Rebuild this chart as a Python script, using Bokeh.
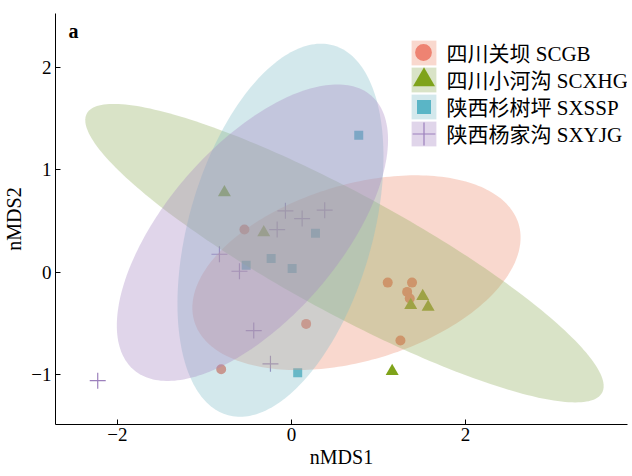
import numpy as np
from bokeh.plotting import figure
from bokeh.models import Range1d, FixedTicker, Label, Legend, LegendItem
from bokeh.embed import file_html
from bokeh.resources import INLINE

# ---- data ----
groups = ["四川关坝 SCGB", "四川小河沟 SCXHG", "陕西杉树坪 SXSSP", "陕西杨家沟 SXYJG"]

scgb_x = [-0.540, 0.169, -0.807, 1.106, 1.385, 1.329, 1.359, 1.252]
scgb_y = [0.417, -0.506, -0.950, -0.102, -0.102, -0.193, -0.258, -0.669]

scxhg_x = [-0.770, -0.318, 1.157, 1.508, 1.370, 1.570]
scxhg_y = [0.779, 0.387, -0.970, -0.236, -0.324, -0.340]

sxssp_x = [0.773, 0.276, -0.520, -0.233, 0.008, 0.072]
sxssp_y = [1.340, 0.381, 0.068, 0.133, 0.035, -0.985]

sxyjg_x = [-2.225, -0.827, -0.597, -0.433, -0.241, -0.164, -0.069, 0.123, 0.382]
sxyjg_y = [-1.061, 0.175, 0.009, -0.571, -0.897, 0.417, 0.600, 0.524, 0.606]

# ellipse centre and covariance-like shape (data units) per group
ell_cx = [0.747, 0.609, -0.126, -0.448]
ell_cy = [-0.005, 0.186, 0.410, 0.386]
ell_sxx = [3.553, 8.863, 1.40, 2.426]
ell_syy = [0.907, 2.131, 3.33, 2.103]
ell_sxy = [0.647, -3.872, 0.85, 1.414]

x_ticks = [-2, 0, 2]
y_ticks = [-1, 0, 1, 2]

# ---- style ----
point_colors = ["#EE8372", "#7FA31A", "#5AB5C6", "#9C80BC"]
fill_colors = ["#EE9073", "#92AF5F", "#81BDC9", "#A687C3"]
SERIF = "Liberation Serif, Noto Sans CJK SC"

FB = 424          # frame bottom (px from top)
FL = 55           # frame left
row_centers = [52, 79, 106, 133]   # legend row centres, px from top
key_cx = 423                         # legend key centre, px from left
key_box = 31                         # legend key area (fill = 80 %)
key_marker_box = [42, 55, 35, 57]    # legend marker area (marker = 40 %)

p = figure(width=632, height=476,
           x_range=Range1d(-2.71, 3.86), y_range=Range1d(-1.49, 2.53),
           output_backend="svg", toolbar_location=None,
           min_border_left=FL, min_border_right=5, min_border_top=13, min_border_bottom=52)
p.outline_line_color = None
p.xgrid.visible = False
p.ygrid.visible = False

xs_all = [scgb_x, scxhg_x, sxssp_x, sxyjg_x]
ys_all = [scgb_y, scxhg_y, sxssp_y, sxyjg_y]
markers = ["circle", "triangle", "square", "cross"]
sizes = [10, 13, 9, 16]

scatter_r = []
for i in range(4):
    if markers[i] == "cross":
        r = p.scatter(xs_all[i], ys_all[i], marker="cross", size=sizes[i],
                      line_color=point_colors[i], line_width=1.2)
    else:
        r = p.scatter(xs_all[i], ys_all[i], marker=markers[i], size=sizes[i],
                      fill_color=point_colors[i], line_color=None)
    scatter_r.append(r)

t = np.linspace(0, 2 * np.pi, 240)
patch_r = []
for i in range(4):
    S = np.array([[ell_sxx[i], ell_sxy[i]], [ell_sxy[i], ell_syy[i]]])
    L = np.linalg.cholesky(S)
    pts = L @ np.vstack([np.cos(t), np.sin(t)])
    ex = ell_cx[i] + pts[0]
    ey = ell_cy[i] + pts[1]
    r = p.patch(ex, ey, fill_color=fill_colors[i], fill_alpha=0.35, line_color=None)
    patch_r.append(r)

# legend rows: one small legend per row (key background + label), then marker on top
for i in range(4):
    g = key_box
    la = Legend(items=[LegendItem(label=groups[i], renderers=[patch_r[i]])],
                location=(key_cx - g / 2 - FL, FB - (row_centers[i] + g / 2)),
                padding=0, margin=0, spacing=0, glyph_width=g, glyph_height=g,
                label_standoff=8, label_text_font=SERIF, label_text_font_size="21px",
                label_text_color="black",
                border_line_color=None, background_fill_alpha=0)
    p.add_layout(la)
for i in range(4):
    g = key_marker_box[i]
    lb = Legend(items=[LegendItem(label="", renderers=[scatter_r[i]])],
                location=(key_cx - g / 2 - FL, FB - (row_centers[i] + g / 2)),
                padding=0, margin=0, spacing=0, glyph_width=g, glyph_height=g,
                label_standoff=0, label_width=0, label_height=0, label_text_font_size="1px",
                border_line_color=None, background_fill_alpha=0)
    p.add_layout(lb)

for ax in (p.xaxis[0], p.yaxis[0]):
    ax.axis_line_color = "black"
    ax.axis_line_width = 1
    ax.major_tick_in = 5
    ax.major_tick_out = 0
    ax.major_tick_line_color = "black"
    ax.minor_tick_line_color = None
    ax.major_label_text_font = SERIF
    ax.major_label_text_font_size = "19px"
    ax.major_label_text_color = "black"
    ax.axis_label_text_font = SERIF
    ax.axis_label_text_font_size = "20px"
    ax.axis_label_text_font_style = "normal"
    ax.axis_label_text_color = "black"

p.xaxis.ticker = FixedTicker(ticks=x_ticks)
p.yaxis.ticker = FixedTicker(ticks=y_ticks)
p.xaxis.major_label_overrides = {v: (str(v).replace("-", "\u2212")) for v in x_ticks}
p.yaxis.major_label_overrides = {v: (str(v).replace("-", "\u2212")) for v in y_ticks}
p.xaxis.axis_label = "nMDS1"
p.yaxis.axis_label = "nMDS2"
p.xaxis.major_label_standoff = 3
p.yaxis.major_label_standoff = 4
p.xaxis.axis_label_standoff = 2
p.yaxis.axis_label_standoff = 3

p.add_layout(Label(x=13, y=383, x_units="screen", y_units="screen", text="a",
                   text_baseline="bottom",
                   text_font=SERIF, text_font_size="20px", text_font_style="bold",
                   text_color="black"))

open("out.html", "w").write(file_html(p, INLINE))
